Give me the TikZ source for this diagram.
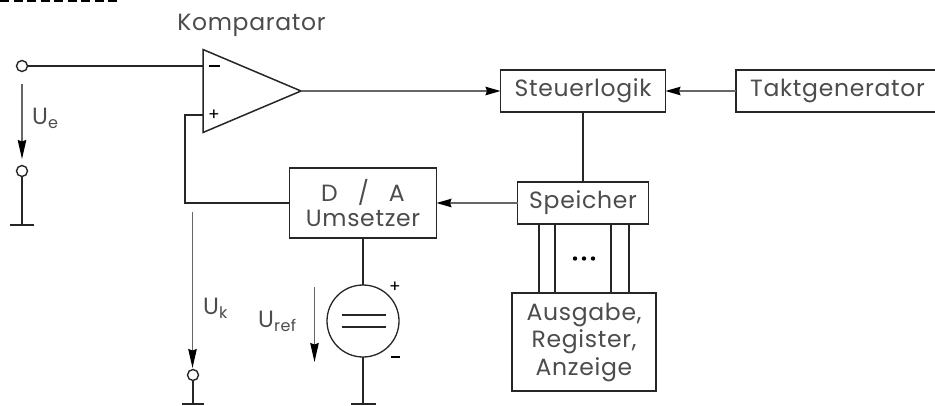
\documentclass[tikz,border=0pt]{standalone}
\usepackage{fontspec}
\setmainfont[LetterSpace=3]{Poppins}
\usetikzlibrary{arrows.meta,shapes.geometric}
\definecolor{wire}{gray}{0.15}
\definecolor{thinwire}{gray}{0.4}
\definecolor{txt}{gray}{0.3}
\tikzset{
  x=1pt,y=-1pt,
  wireline/.style={draw=wire,line width=1.5pt},
  volt/.style={draw=thinwire,line width=1.3pt,-{Stealth[length=19pt,width=8.5pt,inset=1.5pt,black]}},
  sig/.style={draw=thinwire,line width=1.3pt,-{Stealth[length=15pt,width=8.5pt,inset=1.5pt,black]}},
  blk/.style={draw=wire,line width=1.6pt,fill=white,inner sep=0pt,outer sep=0pt,text=txt,font=\fontsize{23.5}{27}\selectfont,align=center},
  term/.style={circle,draw=wire,line width=1.4pt,fill=white,minimum size=11pt,inner sep=0pt},
  lab/.style={text=txt,inner sep=0pt,font=\fontsize{23.5}{26}\selectfont},
  sign/.style={text=black,inner sep=0pt,font=\fontsize{17}{17}\selectfont},
  gnd/.style={wireline},
}
\newcommand{\subtxt}[1]{\raisebox{-4pt}{\fontsize{16}{16}\selectfont #1}}
\begin{document}
\begin{tikzpicture}
\useasboundingbox (0,0) rectangle (935,405);
% dashed remnant on the top edge
\draw[black,line width=2pt,dash pattern=on 9pt off 4.5pt] (0,0.8) -- (118,0.8);

% blocks
\node[blk,minimum width=165pt,minimum height=42pt] (st) at (583,91) {\raisebox{2pt}{Steuerlogik}};
\node[blk,minimum width=203pt,minimum height=42pt] (tg) at (837.5,91) {\raisebox{2pt}{Taktgenerator}};
\node[blk,minimum width=147pt,minimum height=70pt] (da) at (363,203) {D\hspace{0.85em}/\hspace{0.85em}A\\[-2pt]Umsetzer};
\node[blk,minimum width=131pt,minimum height=42pt] (sp) at (583,203) {\raisebox{2pt}{Speicher}};
\node[blk,minimum width=144pt,minimum height=98pt,font=\fontsize{23.5}{27.5}\selectfont] (au) at (584,342) {Ausgabe,\\Register,\\Anzeige};

% comparator
\node[draw=wire,line width=1.5pt,isosceles triangle,isosceles triangle stretches,shape border rotate=0,
  minimum width=83pt,minimum height=98pt,inner sep=0pt,outer sep=0pt,fill=white,anchor=lower side] (cp) at (203,91) {};
\node[lab] (cplab) at (251.5,25) {Komparator};
\coordinate (pm) at (203,66);
\coordinate (pp) at (203,115);
\node[sign] (sm) at (214,66) {\rule{11pt}{1.8pt}};
\node[sign] (sa) at (214,115) {+};

% input
\node[term] (t1) at (22,66) {};
\node[term] (t2) at (22,171) {};
\coordinate (g1) at (22,225);
\coordinate (g1l) at (10,225);
\coordinate (g1r) at (34,225);
\draw[wireline] (t1) -- (pm);
\draw[wireline] (t2) -- (g1);
\draw[gnd] (g1l) -- (g1r);
\coordinate (ue1) at (22,84);
\coordinate (ue2) at (22,159);
\draw[volt] (ue1) -- (ue2);
\node[lab,anchor=base west] (ue) at (32,124) {U\subtxt{e}};

% feedback
\coordinate (fb) at (185,160);
\draw[wireline] (pp) -| (fb) |- (da.west);

% Uk
\node[term] (t3) at (193,375) {};
\coordinate (g3) at (193,404);
\coordinate (g3l) at (182,404);
\coordinate (g3r) at (204,404);
\draw[wireline] (t3) -- (g3);
\draw[gnd] (g3l) -- (g3r);
\coordinate (uk1) at (192.5,212);
\coordinate (uk2) at (192.5,368);
\draw[volt] (uk1) -- (uk2);
\node[lab,anchor=base west] (uk) at (203,314) {U\subtxt{k}};

% reference source
\node[circle,draw=wire,line width=1.3pt,fill=white,minimum size=72pt,inner sep=0pt,outer sep=0pt] (src) at (363,321) {};
\coordinate (b1l) at (342,315);
\coordinate (b1r) at (386,315);
\coordinate (b2l) at (342,327);
\coordinate (b2r) at (386,327);
\draw[wireline] (b1l) -- (b1r);
\draw[wireline] (b2l) -- (b2r);
\draw[wireline] (da.south) -- (src.north);
\coordinate (g4) at (363,404);
\coordinate (g4l) at (351,404);
\coordinate (g4r) at (376,404);
\draw[wireline] (src.south) -- (g4);
\draw[gnd] (g4l) -- (g4r);
\node[sign] (sp1) at (395,287) {+};
\node[sign] (sp2) at (395,357) {\rule{9pt}{1.6pt}};
\coordinate (ur1) at (314.5,287);
\coordinate (ur2) at (314.5,362);
\draw[volt] (ur1) -- (ur2);
\node[lab,anchor=base west] (ur) at (258,327) {U\subtxt{ref}};

% signal paths
\draw[sig] (cp.apex) -- (st.west);
\draw[sig] (tg.west) -- (st.east);
\draw[wireline] (st.south) -- (sp.north);
\draw[sig] (sp.west) -- (da.east);

% bus
\foreach \xx/\nm in {539/a,555/b,611/c,629/d}{
  \coordinate (bu\nm) at (\xx,224);
  \coordinate (bl\nm) at (\xx,293);
  \draw[wireline] (bu\nm) -- (bl\nm);
}
\foreach \xx/\nm in {575/a,584/b,593/c}{
  \fill[black] (\xx,258.5) circle (2.2pt);
}
\end{tikzpicture}
\end{document}
